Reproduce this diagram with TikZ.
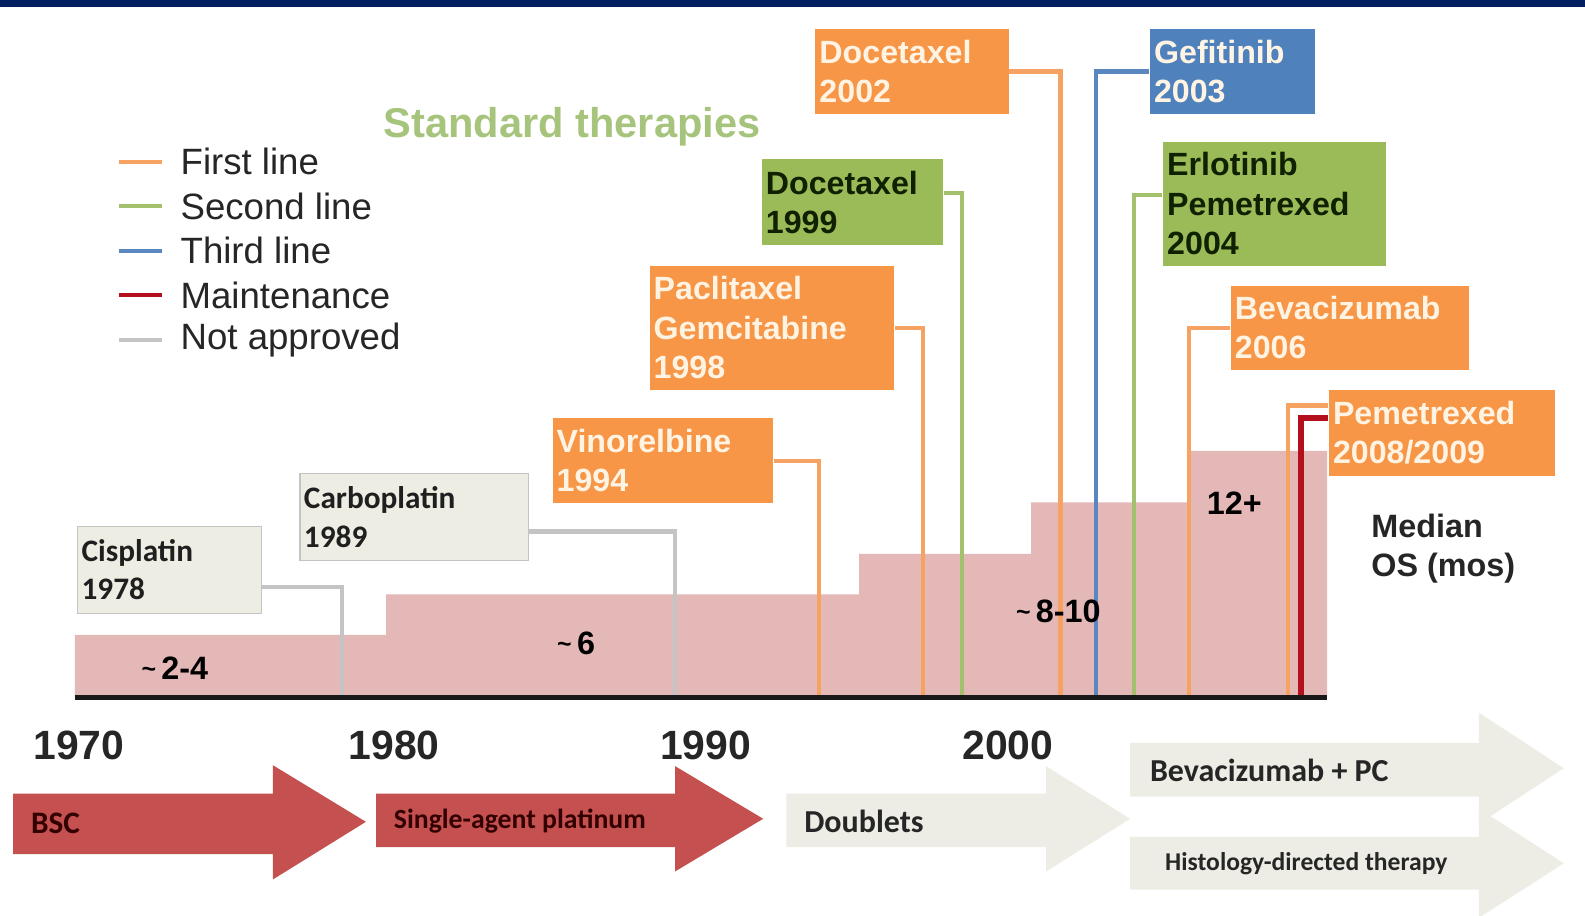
\documentclass[tikz,border=0pt]{standalone}
\usepackage{fontspec}
\setmainfont{Liberation Sans}
\newfontfamily\calfont{Carlito}
\usepackage{tikz}
\usepackage{xcolor}
\usetikzlibrary{calc}

\definecolor{navybar}{HTML}{002060}
\definecolor{orangebox}{HTML}{F79646}
\definecolor{orangeline}{HTML}{F5A262}
\definecolor{greenbox}{HTML}{9BBB59}
\definecolor{greenline}{HTML}{A3C06C}
\definecolor{bluebox}{HTML}{4F81BD}
\definecolor{blueline}{HTML}{5B87C0}
\definecolor{maintred}{HTML}{B4101C}
\definecolor{greybox}{HTML}{EEEDE4}
\definecolor{greyline}{HTML}{C4C4C4}
\definecolor{ospink}{HTML}{E5B8B8}
\definecolor{eraRed}{HTML}{C4504F}
\definecolor{eraGrey}{HTML}{EEEDE5}
\definecolor{creamtext}{HTML}{FFF4E4}
\definecolor{darkgreentext}{HTML}{102000}
\definecolor{titlegreen}{HTML}{A6C47C}

\newcommand{\boxfont}{\fontsize{9.05}{11.1}\selectfont\bfseries}
\newcommand{\calbox}{\calfont\fontsize{8.8}{10.8}\selectfont\bfseries}
\newcommand{\osfont}{\fontsize{9.1}{11.1}\selectfont\bfseries}
\newcommand{\osabout}{{\scriptsize\raisebox{0.15ex}{\textasciitilde}}\,}

\begin{document}
\begin{tikzpicture}[x=0.01cm, y=-0.01cm]

\tikzset{
    box/.style = {
    anchor=north west,
    inner xsep=0.04cm,
    inner ysep=0cm,
    align=left
    }
}

\tikzstyle{firstline}=[fill=orangebox, text=creamtext, font=\boxfont, box]
\tikzstyle{secondline}=[fill=greenbox, text=darkgreentext, font=\boxfont, box]
\tikzstyle{thirdline}=[fill=bluebox, text=creamtext, font=\boxfont, box]
\tikzstyle{notapproved}=[draw=greyline, fill=greybox, text=black!88, font=\calbox, box]

\tikzstyle{firstconn}=[orangeline, line width=1.2pt]
\tikzstyle{secondconn}=[greenline, line width=1.2pt]
\tikzstyle{thirdconn}=[blueline, line width=1.2pt]
\tikzstyle{maintconn}=[maintred, line width=1.8pt]
\tikzstyle{greyconn}=[greyline, line width=1.2pt]

\useasboundingbox (0,0) rectangle (1568,906);
\fill[white] (0,0) rectangle (1568,906);
\fill[navybar] (0,0) rectangle (1568,7);

% median OS staircase and time axis
\fill[ospink] (74,690) |- (382,628) |- (850,588) |- (1020,548) |- (1176,497) |- (1313,446) -- (1313,690) -- cycle;

% approvals
\node (cis) [notapproved, text width=1.74cm, minimum height=0.86cm] at (76,520) {Cisplatin\\1978};
\node (carbo) [notapproved, text width=2.18cm, minimum height=0.86cm] at (296,468) {Carboplatin\\1989};
\node (vin) [firstline, text width=2.10cm, minimum height=0.84cm] at (546,413) {Vinorelbine\\1994};
\node (pac) [firstline, text width=2.34cm, minimum height=1.23cm] at (642,262) {Paclitaxel\\Gemcitabine\\1998};
\node (doc99) [secondline, text width=1.71cm, minimum height=0.85cm] at (753,157) {Docetaxel\\1999};
\node (doc02) [firstline, text width=1.83cm, minimum height=0.84cm] at (806,28) {Docetaxel\\2002};
\node (gef) [thirdline, text width=1.55cm, minimum height=0.84cm] at (1137,28) {Gefitinib\\2003};
\node (erl) [secondline, text width=2.12cm, minimum height=1.22cm] at (1150,140) {Erlotinib\\Pemetrexed\\2004};
\node (bev) [firstline, text width=2.27cm, minimum height=0.83cm] at (1217,282) {Bevacizumab\\2006};
\node (pem) [firstline, text width=2.15cm, minimum height=0.85cm] at (1314,385) {Pemetrexed\\2008/2009};

\coordinate (cis-foot) at (338,688);
\coordinate (carbo-foot) at (668,688);
\coordinate (vin-foot) at (810,688);
\coordinate (pac-foot) at (913,688);
\coordinate (doc99-foot) at (952,688);
\coordinate (doc02-foot) at (1049,688);
\coordinate (gef-foot) at (1084,688);
\coordinate (erl-foot) at (1122,688);
\coordinate (bev-foot) at (1176,688);
\coordinate (pem-foot) at (1274,688);
\coordinate (maint-foot) at (1287,688);

\draw[greyconn] ([yshift=-0.17cm]cis.east) -| (cis-foot);
\draw[greyconn] ([yshift=-0.14cm]carbo.east) -| (carbo-foot);
\draw[firstconn] (vin.east) -| (vin-foot);
\draw[firstconn] (pac.east) -| (pac-foot);
\draw[secondconn] ([yshift=0.095cm]doc99.east) -| (doc99-foot);
\draw[firstconn] (doc02.east) -| (doc02-foot);
\draw[thirdconn] (gef.west) -| (gef-foot);
\draw[secondconn] ([yshift=0.09cm]erl.west) -| (erl-foot);
\draw[firstconn] (bev.west) -| (bev-foot);
\draw[firstconn] ([yshift=0.27cm]pem.west) -| (pem-foot);
\draw[maintconn] ([yshift=0.15cm]pem.west) -| (maint-foot);

\coordinate (axis-l) at (74,690);
\coordinate (axis-r) at (1313,690);
\draw[black!90, line width=1.2pt] (axis-l) -- (axis-r);

% median OS values
\node (os-a) at (173,661) {\osfont\osabout 2-4};
\node (os-b) at (570,636) {\osfont\osabout 6};
\node (os-c) at (1047,605) {\osfont\osabout 8-10};
\node (os-d) at (1221,498) {\osfont 12+};
\node (os-label) [anchor=west, align=left, inner sep=0pt, font=\osfont, text=black!85] at (1356,543) {Median\\OS (mos)};

% legend
\node (title) [text=titlegreen, font=\fontsize{11.7}{14}\selectfont\bfseries] at (566,125) {Standard therapies};
\foreach \c/\t [count=\i] in {orangeline/First line, greenline/Second line, blueline/Third line, maintred/Maintenance, greyline/Not approved}
{
    \draw[\c, line width=1.2pt] (118,{116+44*\i}) -- (160,{116+44*\i});
    \node (leg-\i) [anchor=west, inner sep=0pt, text=black!85, font=\fontsize{10.3}{12}\selectfont] at (178,{116+44*\i}) {\t};
}

% years
\node (y1970) [font=\fontsize{11.5}{13}\selectfont\bfseries, text=black!85] at (78,737) {1970};
\node (y1980) [font=\fontsize{11.5}{13}\selectfont\bfseries, text=black!85] at (390,737) {1980};
\node (y1990) [font=\fontsize{11.5}{13}\selectfont\bfseries, text=black!85] at (698,737) {1990};
\node (y2000) [font=\fontsize{11.5}{13}\selectfont\bfseries, text=black!85] at (997,737) {2000};

% eras
\fill[eraRed] (13,785) -- (270,785) -- (270,757) -- (362,813) -- (270,870) -- (270,845) -- (13,845) -- cycle;
\fill[eraRed] (372,785) -- (668,785) -- (668,758) -- (755,810) -- (668,862) -- (668,838) -- (372,838) -- cycle;
\fill[eraGrey] (778,785) -- (1035,785) -- (1035,758) -- (1118,810) -- (1035,862) -- (1035,838) -- (778,838) -- cycle;
\fill[eraGrey] (1118,735) -- (1463,735) -- (1463,705) -- (1547,760) -- (1463,815) -- (1463,788) -- (1118,788) -- cycle;
\fill[eraGrey] (1118,828) -- (1463,828) -- (1463,800) -- (1547,854) -- (1463,908) -- (1463,880) -- (1118,880) -- cycle;

\node (bsc) [anchor=west, inner sep=0pt, text=black!80!red, font=\calfont\fontsize{8.8}{10}\selectfont\bfseries] at (30,815) {BSC};
\node (plat) [anchor=west, inner sep=0pt, text=black!80!red, font=\calfont\fontsize{7.8}{9}\selectfont\bfseries] at (389,812) {Single-agent platinum};
\node (doub) [anchor=west, inner sep=0pt, text=black!85, font=\calfont\fontsize{9}{10}\selectfont\bfseries] at (795,813) {Doublets};
\node (bevpc) [anchor=west, inner sep=0pt, text=black!85, font=\calfont\fontsize{9}{10}\selectfont\bfseries] at (1137,762) {Bevacizumab + PC};
\node (hist) [anchor=west, inner sep=0pt, text=black!85, font=\calfont\fontsize{7.2}{9}\selectfont\bfseries] at (1152,854) {Histology-directed therapy};

\end{tikzpicture}
\end{document}
